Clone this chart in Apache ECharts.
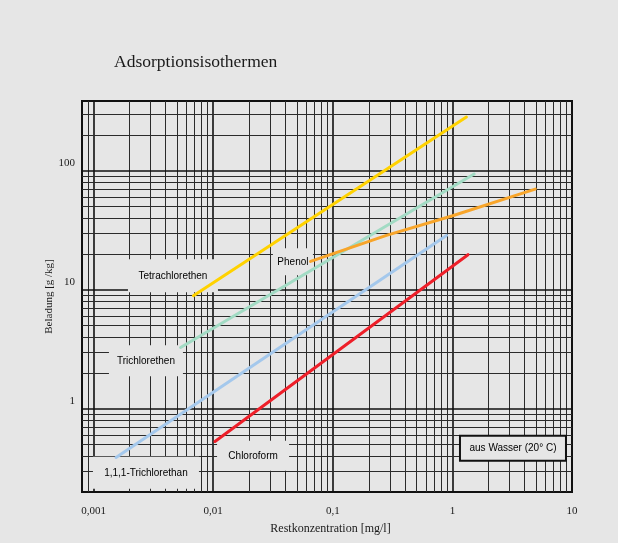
<!DOCTYPE html>
<html>
<head>
<meta charset="utf-8">
<script src="https://cdn.jsdelivr.net/npm/echarts@6/dist/echarts.min.js"></script>
<style>
html,body{margin:0;padding:0;background:#e6e6e6;}
#c{width:618px;height:543px;}
</style>
</head>
<body>
<div id="c"></div>
<script>
// ---- data (x: mg/l, y: g/kg) ----
const tetraX = [0.00683, 1.31];
const tetraY = [8.9, 282];
const triX = [0.00534, 1.52];
const triY = [3.27, 93.7];
const phenolX = [0.0652, 0.281, 1.005, 3.65, 4.93];
const phenolY = [17.3, 28.6, 41.8, 63.6, 70.1];
const tcaX = [0.00154, 0.893];
const tcaY = [0.39, 28.6];
const chloroX = [0.01035, 1.35];
const chloroY = [0.531, 19.7];

const xTickLabels = ['0,001', '0,01', '0,1', '1', '10'];
const xTickExp = [-3, -2, -1, 0, 1];
const yTickLabels = ['1', '10', '100'];
const yTickExp = [0, 1, 2];

const seriesNames = ['Tetrachlorethen', 'Trichlorethen', 'Phenol', '1,1,1-Trichlorethan', 'Chloroform'];
const seriesColors = ['#ffd200', '#a2dbc4', '#f8a52a', '#a4c8ec', '#ee1f29'];

const xMin = 0.0008, xMax = 10, yMin = 0.2, yMax = 385;

function zip(a, b) { return a.map((v, i) => [v, b[i]]); }
function gridValues(lo, hi) {
  const out = [];
  for (let e = -5; e <= 3; e++) {
    for (let m = 1; m <= 9; m++) {
      const v = Number((m * Math.pow(10, e)).toPrecision(3));
      if (v > lo * 1.0001 && v < hi * 0.9999) out.push({ v: v, major: m === 1 });
    }
  }
  return out;
}
const minorStyle = { color: '#2b2b2b', width: 1, opacity: 1 };
const majorStyle = { color: '#111', width: 1.6, opacity: 1 };
const gridLines = []
  .concat(gridValues(xMin, xMax).map(g => ({ coords: [[g.v, yMin], [g.v, yMax]], lineStyle: g.major ? majorStyle : minorStyle })))
  .concat(gridValues(yMin, yMax).map(g => ({ coords: [[xMin, g.v], [xMax, g.v]], lineStyle: g.major ? majorStyle : minorStyle })));

function labelFor(v, labels, exps) {
  const l = Math.log10(v);
  if (Math.abs(l - Math.round(l)) > 1e-6) return '';
  const i = exps.indexOf(Math.round(l));
  return i >= 0 ? labels[i] : '';
}

// label boxes (anchors in data coordinates)
const boxes = [
  { name: 'Tetrachlorethen', value: [0.00461, 13.1], w: 90, h: 33 },
  { name: 'Trichlorethen', value: [0.00274, 2.53], w: 74, h: 31 },
  { name: '1,1,1-Trichlorethan', value: [0.00274, 0.29], w: 106, h: 32 },
  { name: 'Chloroform', value: [0.02155, 0.403], w: 72, h: 30 },
  { name: 'Phenol', value: [0.0464, 17.18], w: 40, h: 27 }
];

const lineData = [zip(tetraX, tetraY), zip(triX, triY), zip(phenolX, phenolY), zip(tcaX, tcaY), zip(chloroX, chloroY)];

const chart = echarts.init(document.getElementById('c'), null, { renderer: 'canvas' });
const serif = 'Liberation Serif';
const sans = 'Liberation Sans';

const option = {
  backgroundColor: '#e6e6e6',
  animation: false,
  title: {
    text: 'Adsorptionsisothermen',
    left: 114, top: 53, padding: 0,
    textStyle: { fontFamily: serif, fontSize: 17.5, fontWeight: 'normal', color: '#1a1a1a' }
  },
  grid: {
    left: 82, right: 46, top: 101, bottom: 51,
    show: true, borderColor: '#111', borderWidth: 2, backgroundColor: 'transparent'
  },
  xAxis: {
    type: 'log', logBase: 10, min: xMin, max: xMax,
    name: 'Restkonzentration [mg/l]', nameLocation: 'middle', nameGap: 31, nameMoveOverlap: false,
    nameTextStyle: { fontFamily: serif, fontSize: 12, color: '#1a1a1a', padding: [0, 0, 0, 7] },
    axisLine: { show: false }, axisTick: { show: false }, splitLine: { show: false },
    axisLabel: {
      fontFamily: serif, fontSize: 11, color: '#1a1a1a', margin: 14,
      showMinLabel: true, showMaxLabel: true, hideOverlap: false,
      formatter: v => labelFor(v, xTickLabels, xTickExp)
    }
  },
  yAxis: {
    type: 'log', logBase: 10, min: yMin, max: yMax,
    name: 'Beladung [g /kg]', nameLocation: 'middle', nameGap: 27, nameMoveOverlap: false,
    nameTextStyle: { fontFamily: serif, fontSize: 11, color: '#1a1a1a' },
    axisLine: { show: false }, axisTick: { show: false }, splitLine: { show: false },
    axisLabel: {
      fontFamily: serif, fontSize: 11, color: '#1a1a1a', margin: 7,
      verticalAlign: 'bottom', padding: [0, 0, 2, 0],
      showMinLabel: true, showMaxLabel: true, hideOverlap: false,
      formatter: v => labelFor(v, yTickLabels, yTickExp)
    }
  },
  series: [
    {
      type: 'lines', coordinateSystem: 'cartesian2d', z: 1, zlevel: 0, silent: true,
      polyline: false, effect: { show: false }, large: false,
      data: gridLines
    },
    {
      type: 'scatter', z: 5, zlevel: 1, symbolSize: 0, silent: true,
      data: boxes.map(b => ({
        name: b.name, value: b.value,
        label: { width: b.w, height: b.h, lineHeight: b.h }
      })),
      label: {
        show: true, position: 'inside', formatter: '{b}',
        fontFamily: sans, fontSize: 10, color: '#000', opacity: 1,
        backgroundColor: '#e6e6e6', align: 'center', verticalAlign: 'middle', padding: 0
      }
    },
    {
      type: 'scatter', z: 5, zlevel: 1, symbolSize: 0, silent: true,
      data: [{ name: 'aus Wasser (20° C)', value: [3.21, 0.466] }],
      label: {
        show: true, position: 'inside', formatter: '{b}',
        fontFamily: sans, fontSize: 10, color: '#000', opacity: 1,
        backgroundColor: '#e6e6e6', borderColor: '#111', borderWidth: 2,
        width: 104, height: 23, lineHeight: 23, align: 'center', verticalAlign: 'middle', padding: 0
      }
    }
  ].concat(seriesNames.map((n, i) => ({
    name: n, type: 'line', z: 10, zlevel: 2, data: lineData[i],
    showSymbol: false, symbol: 'none', silent: true,
    lineStyle: { color: seriesColors[i], width: 3, cap: 'round' }
  })))
};
chart.setOption(option);
</script>
</body>
</html>
